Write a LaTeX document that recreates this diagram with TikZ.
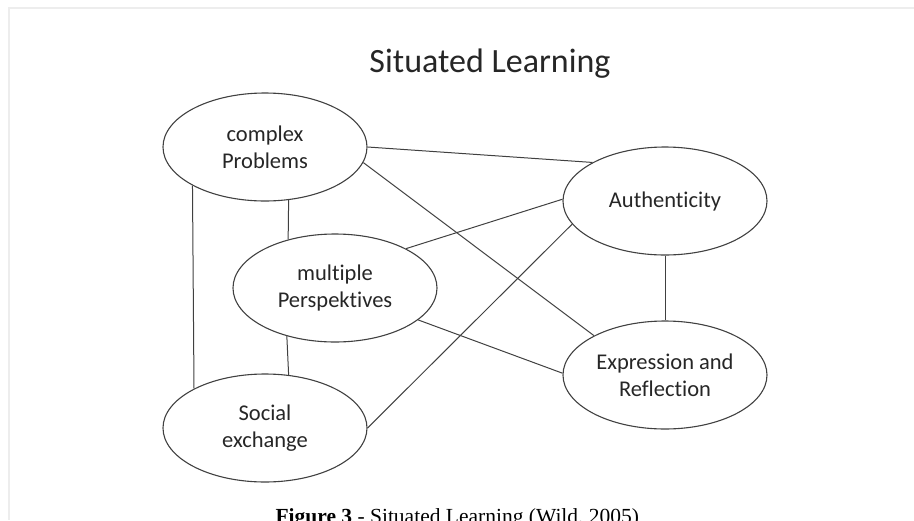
\documentclass[tikz,border=0pt]{standalone}
\usepackage{fontspec}
\setmainfont{Carlito}[Ligatures=NoCommon]
\newfontfamily\capfont{Liberation Serif}
\usetikzlibrary{shapes.geometric}

\begin{document}
\begin{tikzpicture}[x=1pt,y=-1pt,
    idea/.style={ellipse,draw=black!75,line width=1.1pt,minimum width=204pt,
      minimum height=108pt,inner sep=0pt,align=center,text=black!85,
      font=\fontsize{22.5}{27}\selectfont},
    link/.style={draw=black!75,line width=1pt}]
  \useasboundingbox (0,0) rectangle (914,520);
  % faint page edge
  \draw[black!7,line width=1.5pt] (9,520) -- (9,8) -- (914,8);

  \node[anchor=base,text=black!85,font=\fontsize{34}{40}\selectfont] (title) at (490,72) {Situated Learning};

  \node[idea] (prob) at (265,147) {complex\\Problems};
  \node[idea] (persp) at (335,288) {multiple\\Perspektives};
  \node[idea] (soc) at (265,428) {Social\\exchange};
  \node[idea] (auth) at (665,201) {Authenticity};
  \node[idea] (expr) at (665,375) {Expression and\\Reflection};

  \draw[link] (prob.east) -- (auth.152);
  \draw[link] (prob.-9) -- (expr.151);
  \draw[link] (prob.-66.4) -- (persp.134.5);
  \draw[link] (prob.-152.1) -- (soc.151.6);
  \draw[link] (persp.29) -- (auth.179);
  \draw[link] (persp.-21.3) -- (expr.179);
  \draw[link] (persp.225.5) -- (soc.66.8);
  \draw[link] (soc.east) -- (auth.-166);
  \draw[link] (auth.south) -- (expr.north);

  \node[anchor=base west,text=black,font=\capfont\fontsize{21.5}{24}\selectfont] (cap) at (272,523)
    {\textbf{Figure 3} - Situated Learning (Wild, 2005)};
\end{tikzpicture}
\end{document}
